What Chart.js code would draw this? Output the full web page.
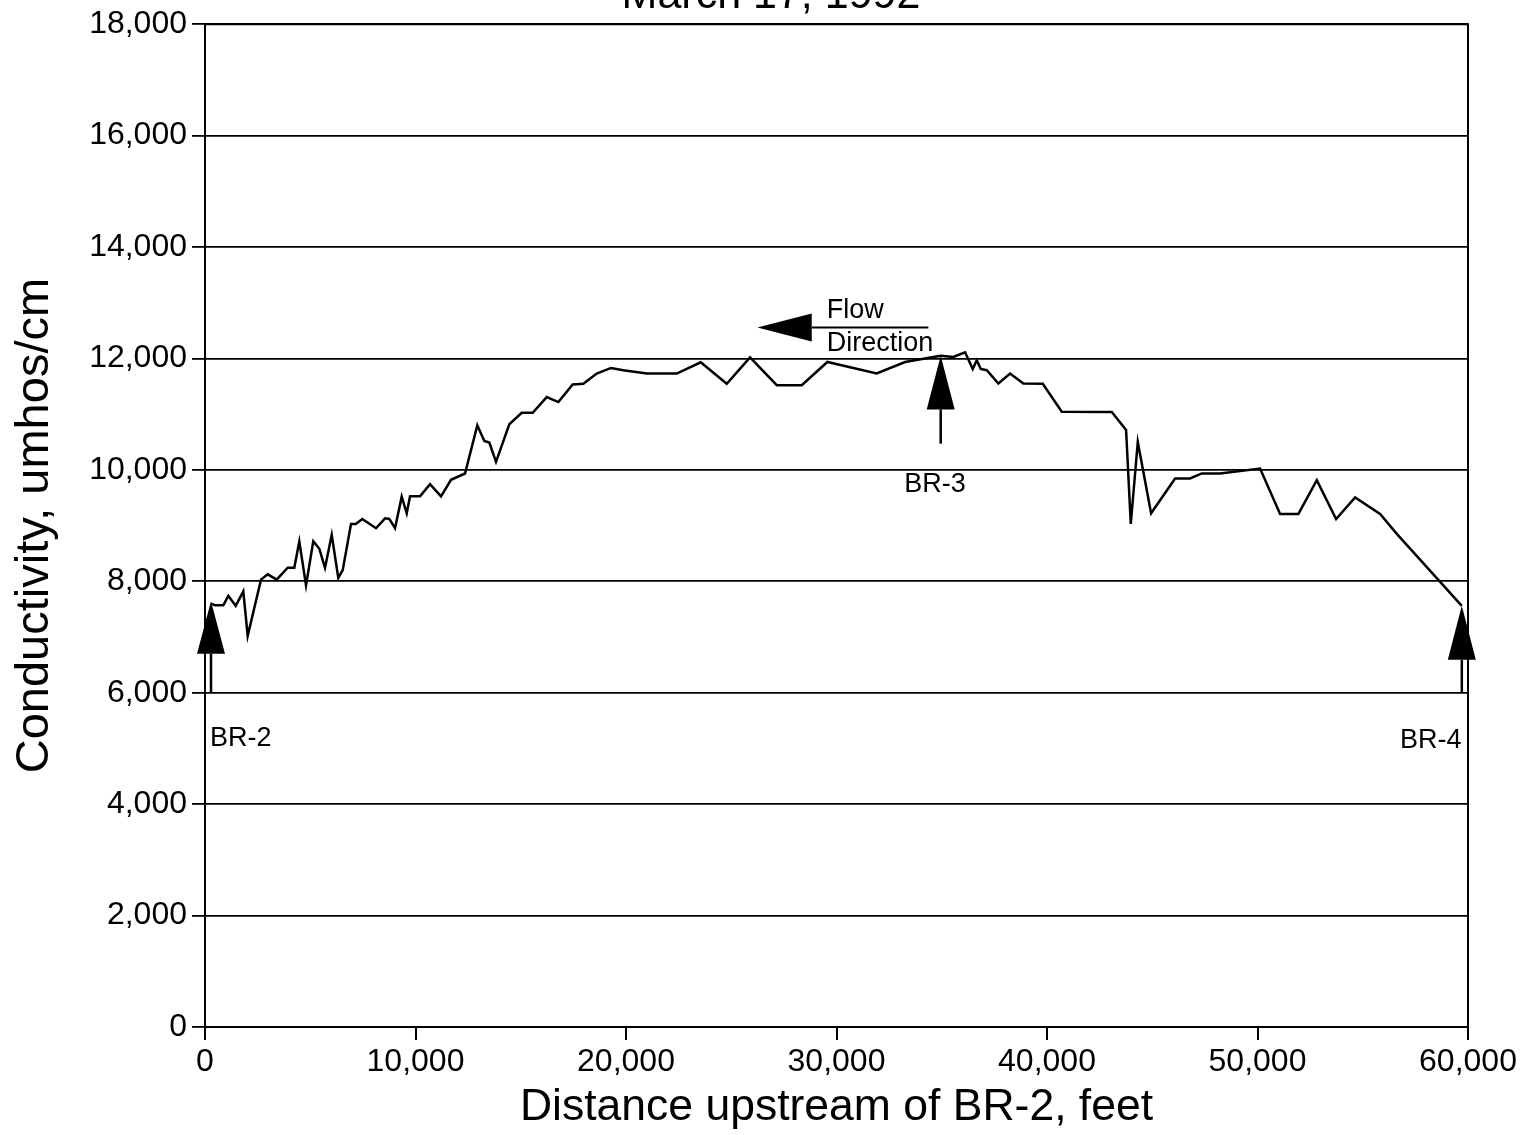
<!DOCTYPE html>
<html>
<head>
<meta charset="utf-8">
<title>Conductivity profile</title>
<script src="https://cdn.jsdelivr.net/npm/chart.js@4/dist/chart.umd.min.js"></script>
<style>
  html, body { margin: 0; padding: 0; background: #fff; }
  #wrap { width: 1532px; height: 1135px; }
</style>
</head>
<body>
<div id="wrap"><canvas id="condChart" width="1532" height="1135"></canvas></div>
<script>
// distance upstream of BR-2 (feet) and conductivity (umhos/cm)
var distance = [300, 475, 870, 1107, 1458, 1820, 2029, 2660, 2979, 3406,
  3929, 4243, 4480, 4799, 5145, 5430, 5701, 6020, 6333, 6542,
  6936, 7160, 7473, 8124, 8552, 8756, 9027, 9345, 9583, 9740,
  10215, 10690, 11212, 11687, 12353, 12937, 13270, 13507, 13825, 14457,
  15046, 15569, 16234, 16785, 17469, 17973, 18610, 19289, 19874, 20985,
  22410, 23551, 24786, 25893, 27162, 28350, 29566, 31912, 33257, 34601,
  34953, 35551, 36108, 36473, 36663, 36853, 37139, 37690, 38246, 38877,
  39799, 40702, 43077, 43757, 43980, 44313, 44945, 46085, 46797, 47353,
  48223, 50123, 51073, 51943, 52817, 53734, 54637, 55825, 56618, 59706];

var conductivity = [7600, 7570, 7570, 7740, 7560, 7820, 7020, 8030, 8125, 8030,
  8245, 8245, 8715, 7930, 8720, 8585, 8240, 8835, 8060, 8200,
  9030, 9030, 9120, 8953, 9130, 9120, 8953, 9520, 9220, 9525,
  9525, 9745, 9525, 9823, 9935, 10800, 10520, 10490, 10145, 10818,
  11026, 11026, 11307, 11217, 11532, 11545, 11730, 11830, 11790, 11730,
  11730, 11932, 11545, 12020, 11520, 11520, 11937, 11730, 11937, 12027,
  12050, 12027, 12110, 11812, 11967, 11812, 11790, 11550, 11730, 11550,
  11545, 11044, 11038, 10716, 9030, 10502, 9221, 9846, 9846, 9936,
  9936, 10025, 9210, 9210, 9816, 9119, 9507, 9209, 8851, 7560];

var xTicks = [0, 10000, 20000, 30000, 40000, 50000, 60000];
var yTicks = [0, 2000, 4000, 6000, 8000, 10000, 12000, 14000, 16000, 18000];

// station arrows (data units)
var stations = [
  { name: 'BR-2', x: 285,   tip: 7640,  base: 6700,  stem: 6000,  labelX: 240,   labelY: 5180, align: 'left' },
  { name: 'BR-3', x: 34950, tip: 12050, base: 11085, stem: 10470, labelX: 34682, labelY: 9745, align: 'center' },
  { name: 'BR-4', x: 59706, tip: 7560,  base: 6590,  stem: 6000,  labelX: 59690, labelY: 5150, align: 'right' }
];
var flowArrow = { tipX: 26240, baseX: 28824, endX: 34364, y: 12557, textX: 29537, flowY: 12861, dirY: 12259 };

var FONT = '"Liberation Sans", Arial, Helvetica, sans-serif';

var points = distance.map(function (d, i) { return { x: d, y: conductivity[i] }; });

var annotate = {
  id: 'annotate',
  afterDatasetsDraw: function (chart) {
    var ctx = chart.ctx, xs = chart.scales.x, ys = chart.scales.y, a = chart.chartArea;
    ctx.save();
    // frame right side and top
    ctx.strokeStyle = '#000';
    ctx.lineWidth = 2;
    ctx.beginPath();
    ctx.moveTo(a.left, a.top);
    ctx.lineTo(a.right, a.top);
    ctx.lineTo(a.right, a.bottom);
    ctx.stroke();

    ctx.fillStyle = '#000';
    ctx.font = '27px ' + FONT;
    ctx.textBaseline = 'middle';
    stations.forEach(function (s) {
      var px = xs.getPixelForValue(s.x);
      var tip = ys.getPixelForValue(s.tip);
      var base = ys.getPixelForValue(s.base);
      var stem = ys.getPixelForValue(s.stem);
      ctx.beginPath();
      ctx.moveTo(px, tip);
      ctx.lineTo(px - 14, base);
      ctx.lineTo(px + 14, base);
      ctx.closePath();
      ctx.fill();
      ctx.lineWidth = 2.5;
      ctx.beginPath();
      ctx.moveTo(px, base);
      ctx.lineTo(px, stem);
      ctx.stroke();
      ctx.textAlign = s.align;
      ctx.fillText(s.name, xs.getPixelForValue(s.labelX), ys.getPixelForValue(s.labelY));
    });

    // flow direction arrow
    var fy = ys.getPixelForValue(flowArrow.y);
    var tx = xs.getPixelForValue(flowArrow.tipX);
    var bx = xs.getPixelForValue(flowArrow.baseX);
    ctx.beginPath();
    ctx.moveTo(tx, fy);
    ctx.lineTo(bx, fy - 14);
    ctx.lineTo(bx, fy + 14);
    ctx.closePath();
    ctx.fill();
    ctx.lineWidth = 2;
    ctx.beginPath();
    ctx.moveTo(bx, fy);
    ctx.lineTo(xs.getPixelForValue(flowArrow.endX), fy);
    ctx.stroke();
    ctx.textAlign = 'left';
    ctx.fillText('Flow', xs.getPixelForValue(flowArrow.textX), ys.getPixelForValue(flowArrow.flowY));
    ctx.fillText('Direction', xs.getPixelForValue(flowArrow.textX), ys.getPixelForValue(flowArrow.dirY));

    // title, cut off at the top of the page
    ctx.font = '43px ' + FONT;
    ctx.textAlign = 'center';
    ctx.textBaseline = 'alphabetic';
    ctx.fillText('March 17, 1992', 771, 8);
    ctx.restore();
  }
};

var condChart = new Chart(document.getElementById('condChart'), {
  type: 'scatter',
  data: {
    datasets: [{
      label: 'Conductivity',
      data: points,
      showLine: true,
      borderColor: '#000',
      borderWidth: 2.5,
      pointRadius: 0,
      tension: 0
    }]
  },
  options: {
    responsive: false,
    devicePixelRatio: 1,
    animation: false,
    layout: { padding: { top: 20, right: 64, left: 0, bottom: 0 } },
    plugins: { legend: { display: false }, tooltip: { enabled: false } },
    scales: {
      x: {
        type: 'linear',
        min: 0,
        max: 60000,
        afterBuildTicks: function (scale) { scale.ticks = xTicks.map(function (v) { return { value: v }; }); },
        afterFit: function (scale) { scale.height = 108; },
        grid: { drawOnChartArea: false, drawTicks: true, tickLength: 13, color: '#000', lineWidth: 2 },
        border: { display: true, color: '#000', width: 2 },
        ticks: {
          color: '#000',
          padding: 3,
          maxRotation: 0,
          font: { family: FONT, size: 32 },
          callback: function (v) { return Number(v).toLocaleString('en-US'); }
        },
        title: {
          display: true,
          text: 'Distance upstream of BR-2, feet',
          color: '#000',
          font: { family: FONT, size: 44.5 },
          padding: { top: 0, bottom: 1 }
        }
      },
      y: {
        min: 0,
        max: 18000,
        afterBuildTicks: function (scale) { scale.ticks = yTicks.map(function (v) { return { value: v }; }); },
        afterFit: function (scale) { scale.width = 205; },
        grid: { drawOnChartArea: true, drawTicks: true, tickLength: 13, color: '#000', lineWidth: 1.8 },
        border: { display: true, color: '#000', width: 2 },
        ticks: {
          color: '#000',
          padding: 5,
          font: { family: FONT, size: 32 },
          callback: function (v) { return Number(v).toLocaleString('en-US'); }
        },
        title: {
          display: true,
          text: 'Conductivity, umhos/cm',
          color: '#000',
          font: { family: FONT, size: 47 },
          padding: { top: 7, bottom: 0 }
        }
      }
    }
  },
  plugins: [annotate]
});
</script>
</body>
</html>
